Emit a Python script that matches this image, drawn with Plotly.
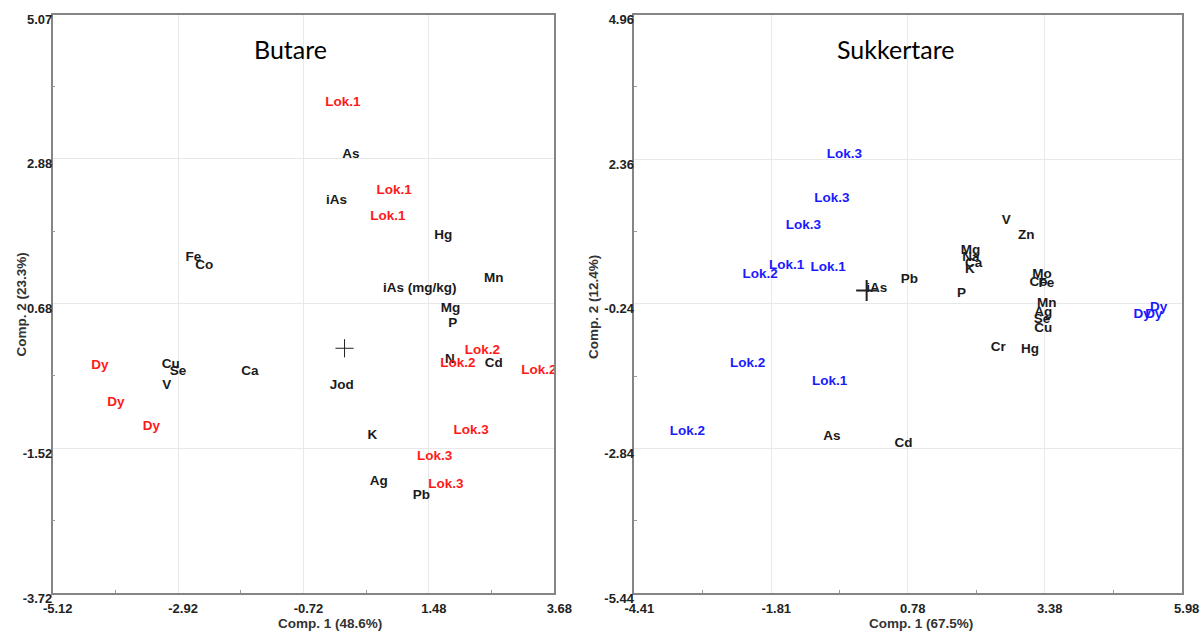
import plotly.graph_objects as go

# ---------------- data ----------------
# Butare (left panel)
butare_score_labels = ["Lok.1", "Lok.1", "Lok.1", "Lok.2", "Lok.2", "Lok.2",
                       "Lok.3", "Lok.3", "Lok.3", "Dy", "Dy", "Dy"]
butare_score_x = [-0.03, 0.87, 0.76, 2.42, 1.99, 3.41, 2.22, 1.58, 1.78, -4.29, -4.01, -3.39]
butare_score_y = [3.74, 2.39, 2.00, -0.04, -0.23, -0.34, -1.25, -1.64, -2.08, -0.26, -0.83, -1.19]

butare_load_labels = ["As", "iAs", "Hg", "Fe", "Co", "Mn", "iAs (mg/kg)", "Mg", "P", "N",
                      "Cd", "Cu", "Se", "V", "Ca", "Jod", "K", "Ag", "Pb"]
butare_load_x = [0.11, -0.14, 1.73, -2.65, -2.46, 2.62, 1.32, 1.86, 1.90, 1.85,
                 2.62, -3.05, -2.92, -3.12, -1.66, -0.05, 0.49, 0.60, 1.35]
butare_load_y = [2.95, 2.25, 1.71, 1.37, 1.25, 1.06, 0.91, 0.60, 0.37, -0.17,
                 -0.24, -0.25, -0.36, -0.57, -0.35, -0.57, -1.33, -2.03, -2.24]

butare_xticks = [-5.12, -2.92, -0.72, 1.48, 3.68]
butare_yticks = [-3.72, -1.52, 0.68, 2.88, 5.07]

# Sukkertare (right panel)
sukker_score_labels = ["Lok.3", "Lok.3", "Lok.3", "Lok.1", "Lok.1", "Lok.2",
                       "Lok.2", "Lok.1", "Lok.2", "Dy", "Dy", "Dy"]
sukker_score_x = [-0.42, -0.66, -1.20, -1.52, -0.73, -2.02, -2.26, -0.70, -3.40, 5.54, 5.23, 5.45]
sukker_score_y = [2.44, 1.66, 1.17, 0.44, 0.42, 0.28, -1.31, -1.64, -2.53, -0.31, -0.43, -0.43]

sukker_load_labels = ["V", "Zn", "Mg", "Na", "Ca", "K", "Pb", "iAs", "P", "Mo", "Co", "Fe",
                      "Mn", "Ag", "Se", "Cu", "Cr", "Hg", "As", "Cd"]
sukker_load_x = [2.65, 3.03, 1.97, 1.98, 2.03, 1.96, 0.81, 0.19, 1.80, 3.33, 3.26, 3.41,
                 3.42, 3.35, 3.33, 3.35, 2.50, 3.10, -0.66, 0.70]
sukker_load_y = [1.26, 0.99, 0.72, 0.59, 0.48, 0.38, 0.20, 0.04, -0.05, 0.28, 0.14, 0.12,
                 -0.24, -0.40, -0.52, -0.69, -1.02, -1.07, -2.63, -2.75]

sukker_xticks = [-4.41, -1.81, 0.78, 3.38, 5.98]
sukker_yticks = [-5.44, -2.84, -0.24, 2.36, 4.96]

panel_titles = ["Butare", "Sukkertare"]
x_titles = ["Comp. 1 (48.6%)", "Comp. 1 (67.5%)"]
y_titles = ["Comp. 2 (23.3%)", "Comp. 2 (12.4%)"]

# ---------------- figure ----------------
W, H = 1203, 635
FONT = "Liberation Sans, Arial, sans-serif"
label_font = dict(family=FONT, size=13.5)

fig = go.Figure()

def add_panel(xa, ya, sl, sx, sy, ll, lx, ly, score_color, cross_size, cross_w):
    fig.add_trace(go.Scatter(x=lx, y=ly, text=ll, mode="text", textposition="middle center",
                             textfont=dict(label_font, color="#1a1a1a", weight="bold"),
                             xaxis=xa, yaxis=ya, showlegend=False, hoverinfo="text"))
    fig.add_trace(go.Scatter(x=sx, y=sy, text=sl, mode="text", textposition="middle center",
                             textfont=dict(label_font, color=score_color, weight="bold"),
                             xaxis=xa, yaxis=ya, showlegend=False, hoverinfo="text"))
    fig.add_trace(go.Scatter(x=[0], y=[0], mode="markers",
                             marker=dict(symbol="cross-thin", size=cross_size,
                                         line=dict(color="#222222", width=cross_w)),
                             xaxis=xa, yaxis=ya, showlegend=False, hoverinfo="skip"))

add_panel("x", "y", butare_score_labels, butare_score_x, butare_score_y,
          butare_load_labels, butare_load_x, butare_load_y, "#ff1a1a", 13, 1)
add_panel("x2", "y2", sukker_score_labels, sukker_score_x, sukker_score_y,
          sukker_load_labels, sukker_load_x, sukker_load_y, "#1a1aff", 15, 2)

def mids(t):
    return [(a + b) / 2 for a, b in zip(t[:-1], t[1:])]

def axis(domain, rng, ticks, anchor, is_x):
    d = dict(domain=domain, range=rng, tickvals=ticks, ticktext=[f"{t:.2f}" for t in ticks],
             showgrid=True, gridcolor="#e8e8e8", gridwidth=1, zeroline=False,
             showline=True, mirror=True, linecolor="#858585", linewidth=1.5,
             ticks="", anchor=anchor, automargin=False, fixedrange=True,
             tickfont=dict(family=FONT, size=13, color="#222222", weight="bold"),
             minor=dict(tickvals=mids(ticks), ticks="inside", ticklen=3,
                        tickcolor="#999999", showgrid=False))
    if is_x:
        d["ticklabelshift"] = 5
        d["ticklabelstandoff"] = 3
    else:
        d["ticklabelshift"] = 5
        d["ticklabelstandoff"] = -4
    return d

xL = [52.7 / W, 554.3 / W]
xR = [634.3 / W, 1181.7 / W]
yD = [1 - 593.0 / H, 1 - 14.7 / H]

fig.update_layout(
    width=W, height=H,
    margin=dict(l=0, r=0, t=0, b=0),
    paper_bgcolor="white", plot_bgcolor="white",
    xaxis=axis(xL, [-5.12, 3.68], butare_xticks, "y", True),
    yaxis=axis(yD, [-3.72, 5.07], butare_yticks, "x", False),
    xaxis2=axis(xR, [-4.41, 5.98], sukker_xticks, "y2", True),
    yaxis2=axis(yD, [-5.44, 4.96], sukker_yticks, "x2", False),
)

ann = []
for cx, t in zip([290, 895], panel_titles):
    ann.append(dict(x=cx / W, y=1 - 49 / H, xref="paper", yref="paper", text=t, showarrow=False,
                    font=dict(family="Lato, Open Sans, sans-serif", size=25, color="black"),
                    xanchor="center", yanchor="middle"))
for cx, t in zip([330, 921], x_titles):
    ann.append(dict(x=cx / W, y=1 - 623 / H, xref="paper", yref="paper", text=t, showarrow=False,
                    font=dict(family=FONT, size=13.5, color="#333333", weight="bold"),
                    xanchor="center", yanchor="middle"))
for cx, cy, t in zip([20.5, 593], [305, 307], y_titles):
    ann.append(dict(x=cx / W, y=1 - cy / H, xref="paper", yref="paper", text=t, showarrow=False,
                    textangle=-90,
                    font=dict(family=FONT, size=13.5, color="#333333", weight="bold"),
                    xanchor="center", yanchor="middle"))
fig.update_layout(annotations=ann)

fig.write_html("out.html")
